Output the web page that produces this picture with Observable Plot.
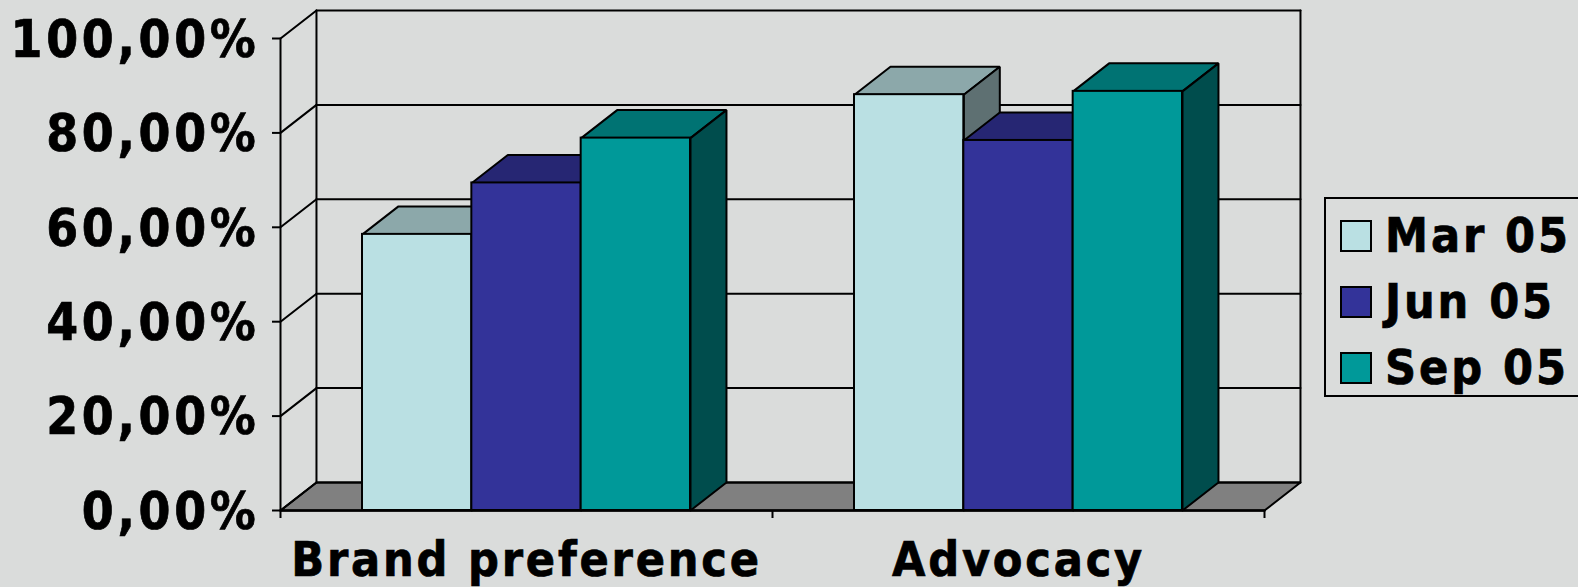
<!DOCTYPE html>
<html>
<head>
<meta charset="utf-8">
<script src="https://cdn.jsdelivr.net/npm/d3@7"></script>
<script src="https://cdn.jsdelivr.net/npm/@observablehq/plot@0.6"></script>
<style>
  html, body { margin: 0; padding: 0; background: #dadcdb; }
  #chart { position: relative; width: 1578px; height: 587px; overflow: hidden; font-family: "DejaVu Sans Condensed", "DejaVu Sans", sans-serif; font-weight: bold; color: #000; }
  #chart svg { position: absolute; left: 0; top: 0; background: transparent; }
  #chart .value-labels text { letter-spacing: 3.7px; stroke: #000; stroke-width: 0.7px; }
  #chart .category-labels text { letter-spacing: 2.8px; stroke: #000; stroke-width: 0.7px; }
  #legend { position: absolute; left: 1324px; top: 197px; width: 300px; height: 200px; box-sizing: border-box; border: 2px solid #000; }
  #legend .row { position: absolute; left: 0; height: 66px; width: 100%; }
  #legend .swatch { position: absolute; left: 14px; top: 18px; width: 32px; height: 32px; box-sizing: border-box; border: 2px solid #000; }
  #legend .name { position: absolute; left: 59px; top: 0; font-size: 48px; line-height: 66px; letter-spacing: 2.9px; white-space: nowrap; -webkit-text-stroke: 0.7px #000; }
</style>
</head>
<body>
<div id="chart"></div>
<script>
// Survey results by wave, in percent
const categories = ["Brand preference", "Advocacy"];
const waves = ["Mar 05", "Jun 05", "Sep 05"];
const mar05 = [58.5, 88.1];
const jun05 = [69.4, 78.4];
const sep05 = [78.9, 88.8];
const yTicks = [0, 20, 40, 60, 80, 100];

// Face colours per wave: front, top (75%), side (50%)
const frontColors = ["#bae0e3", "#333399", "#009999"];
const topColors = ["#8ca8aa", "#262673", "#007373"];
const sideColors = ["#5e7072", "#1a1a4d", "#004d4d"];
const wallFloor = "#808080";

// Bar layout in x units, where one bar is one unit wide
const gap = 0.75;
const groupWidth = waves.length + 2 * gap;
const xMax = categories.length * groupWidth;
// Depth of the 3-D projection, in x units and y percentage points
const depthX = 0.329;
const depthY = 5.93;
// Tick lengths along each axis, in that axis's units
const tickX = 0.073;
const tickY = 1.7;

const series = [mar05, jun05, sep05];
const ink = {stroke: "#000", strokeWidth: 2, strokeLinejoin: "miter"};
const labelFont = {fontWeight: "bold", fontFamily: "DejaVu Sans Condensed, DejaVu Sans", fill: "#000"};

const polygon = (points, fill) =>
  Plot.line([...points, points[0]], {x: "0", y: "1", fill, ...ink});
const segment = (points, strokeWidth = 2) =>
  Plot.line(points, {x: "0", y: "1", stroke: "#000", strokeWidth});

const boxMarks = [];
categories.forEach((_, c) => {
  series.forEach((values, s) => {
    const v = values[c];
    const l = c * groupWidth + gap + s;
    const r = l + 1;
    boxMarks.push(
      polygon([[l, v], [r, v], [r + depthX, v + depthY], [l + depthX, v + depthY]], topColors[s]),
      polygon([[r, 0], [r + depthX, depthY], [r + depthX, v + depthY], [r, v]], sideColors[s]),
      Plot.rect([{l, r, v}], {x1: "l", x2: "r", y1: () => 0, y2: "v", fill: frontColors[s], ...ink})
    );
  });
});

const chart = Plot.plot({
  width: 1578,
  height: 587,
  marginLeft: 280,
  marginRight: 314,
  marginTop: 38,
  marginBottom: 77,
  x: {domain: [0, xMax], axis: null},
  y: {domain: [0, 100], axis: null},
  style: {background: "transparent", overflow: "visible"},
  marks: [
    // Floor
    polygon([[0, 0], [xMax, 0], [xMax + depthX, depthY], [depthX, depthY]], wallFloor),
    // Back wall gridlines and side wall gridlines
    ...yTicks.map((t) => segment([[depthX, t + depthY], [xMax + depthX, t + depthY]])),
    ...yTicks.map((t) => segment([[0, t], [depthX, t + depthY]])),
    segment([[depthX, depthY], [depthX, 100 + depthY]]),
    segment([[xMax + depthX, depthY], [xMax + depthX, 100 + depthY]]),
    // Front edge of the value axis
    segment([[0, 0], [0, 100]]),
    ...boxMarks,
    // Base line, drawn over the bar feet
    segment([[0, 0], [xMax, 0]], 2.4),
    Plot.ruleX([0, groupWidth, xMax], {x: (d) => d, y1: () => 0, y2: () => -tickY, stroke: "#000", strokeWidth: 2}),
    Plot.ruleY(yTicks, {y: (d) => d, x1: () => 0, x2: () => -tickX, stroke: "#000", strokeWidth: 2}),
    Plot.text(yTicks, {
      className: "value-labels",
      x: () => 0,
      y: (d) => d,
      text: (d) => d.toFixed(2).replace(".", ",") + "%",
      textAnchor: "end",
      dx: -21,
      dy: 2,
      fontSize: 51,
      ...labelFont
    }),
    Plot.text(categories, {
      className: "category-labels",
      x: (d, i) => (i + 0.5) * groupWidth,
      y: () => 0,
      text: (d) => d,
      dy: 50,
      fontSize: 48,
      ...labelFont
    })
  ]
});

const root = document.getElementById("chart");
root.append(chart);

// Legend box, running off the right edge of the page
const legend = d3.select(root).append("div").attr("id", "legend");
const rows = legend.selectAll(".row").data(waves).join("div").attr("class", "row").style("top", (d, i) => `${3 + i * 66}px`);
rows.append("div").attr("class", "swatch").style("background", (d, i) => frontColors[i]);
rows.append("div").attr("class", "name").text((d) => d);
</script>
</body>
</html>
